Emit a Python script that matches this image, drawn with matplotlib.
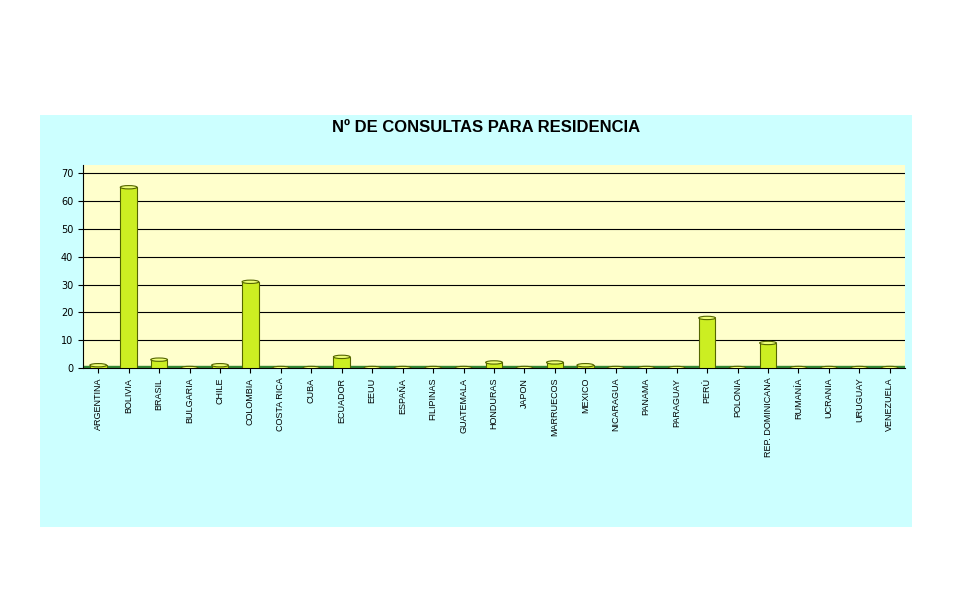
import matplotlib.pyplot as plt
from matplotlib.patches import Ellipse

paises = ['ARGENTINA', 'BOLIVIA', 'BRASIL', 'BULGARIA', 'CHILE', 'COLOMBIA', 'COSTA RICA',
          'CUBA', 'ECUADOR', 'EEUU', 'ESPAÑA', 'FILIPINAS', 'GUATEMALA', 'HONDURAS', 'JAPON',
          'MARRUECOS', 'MEXICO', 'NICARAGUA', 'PANAMA', 'PARAGUAY', 'PERÚ', 'POLONIA',
          'REP. DOMINICANA', 'RUMANÍA', 'UCRANIA', 'URUGUAY', 'VENEZUELA']
consultas = [1, 65, 3, 0, 1, 31, 0, 0, 4, 0, 0, 0, 0, 2, 0, 2, 1, 0, 0, 0, 18, 0, 9, 0, 0, 0, 0]

fig = plt.figure(figsize=(9.72, 6.06), dpi=100)

# panel de fondo celeste
bg = fig.add_axes([40/972, 1-527/606, 872/972, 412/606], zorder=0)
bg.set_facecolor('#ccffff')
bg.set_xticks([]); bg.set_yticks([])
for s in bg.spines.values():
    s.set_visible(False)

fig.text(0.5, 1-127/606, 'Nº DE CONSULTAS PARA RESIDENCIA', ha='center', va='center',
         fontsize=12, fontweight='bold', family='Liberation Sans', zorder=5)

ax = fig.add_axes([83/972, 1-368/606, 822/972, 203/606], zorder=1)
ax.set_facecolor('#ffffcc')
ax.set_xlim(-0.5, len(paises) - 0.5)
ax.set_ylim(0, 73)
ax.set_yticks(range(0, 71, 10))
ax.grid(axis='y', color='black', linewidth=0.8)
ax.set_axisbelow(True)

x = list(range(len(paises)))
w = 0.55
ax.bar(x, consultas, width=w, color='#ccee22', edgecolor='#556600', linewidth=0.8, zorder=3)
for xi, v in zip(x, consultas):
    ax.add_patch(Ellipse((xi, v), w, 1.2, facecolor='#eeff77', edgecolor='#556600',
                         linewidth=0.8, zorder=4))
ax.axhspan(0, 0.6, color='#338833', zorder=2)

ax.set_xticks(x)
ax.set_xticklabels(paises, rotation=90, fontsize=6.5, family='Liberation Sans')
ax.tick_params(axis='y', labelsize=7)
for s in ['top', 'right']:
    ax.spines[s].set_visible(False)

fig.savefig('out.png', dpi=100)
